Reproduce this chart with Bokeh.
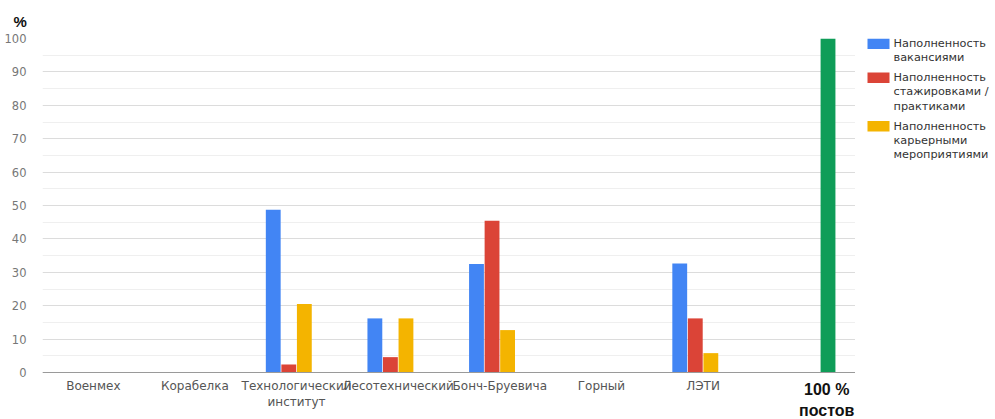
from bokeh.plotting import figure
from bokeh.models import ColumnDataSource, Range1d, FactorRange, Title, Span, FixedTicker
from bokeh.core.properties import value
from bokeh.layouts import row
from bokeh.transform import dodge
from bokeh.embed import file_html
from bokeh.resources import INLINE

categories = ["Военмех", "Корабелка", "Технологический\nинститут", "Лесотехнический",
              "Бонч-Бруевича", "Горный", "ЛЭТИ", "100 %\nпостов"]
vacancies = [0, 0, 48.7, 16.2, 32.5, 0, 32.6, 0]
internships = [0, 0, 2.4, 4.6, 45.4, 0, 16.2, 0]
events = [0, 0, 20.5, 16.2, 12.7, 0, 5.8, 0]
posts = [0, 0, 0, 0, 0, 0, 0, 100]
series_names = ["Наполненность\nвакансиями", "Наполненность\nстажировками /\nпрактиками",
                "Наполненность\nкарьерными\nмероприятиями"]
y_ticks = [0, 10, 20, 30, 40, 50, 60, 70, 80, 90, 100]

colors = ["#4285F4", "#DB4437", "#F4B400", "#0F9D58"]

src = ColumnDataSource(dict(cat=categories, v=vacancies, i=internships, e=events, p=posts))

# frame extends below zero so that the category labels can be drawn with their own styles
p = figure(x_range=FactorRange(*categories), y_range=Range1d(-14.07, 100),
           width=855, height=419, output_backend="svg", toolbar_location=None,
           x_axis_location=None,
           min_border_left=42, min_border_right=0, min_border_top=38, min_border_bottom=0)
p.x_range.range_padding = 0

step = 0.153
bw = 0.146
for k, (col, c) in enumerate(zip(["v", "i", "e", "p"], colors)):
    p.vbar(x=dodge("cat", (k - 1.5) * step, range=p.x_range), top=col, width=bw,
           source=src, fill_color=c, line_color=None)

p.outline_line_color = None
p.xgrid.grid_line_color = None
p.yaxis.ticker = FixedTicker(ticks=y_ticks,
                             minor_ticks=[(a + b) / 2 for a, b in zip(y_ticks[:-1], y_ticks[1:])])
p.ygrid.grid_line_color = "#dcdcdc"
p.ygrid.minor_grid_line_color = "#efefef"
p.yaxis.axis_line_color = None
p.yaxis.major_tick_line_color = None
p.yaxis.minor_tick_line_color = None
p.yaxis.major_label_text_font = "DejaVu Sans"
p.yaxis.major_label_text_font_size = "11.5px"
p.yaxis.major_label_text_color = "#777777"
p.yaxis.major_label_standoff = 10

p.add_layout(Span(location=0, dimension="width", line_color="#9a9a9a", line_width=1.2))

lab_src = ColumnDataSource(dict(cat=categories[:-1]))
p.text(x="cat", y=0, text="cat", source=lab_src, y_offset=6, text_align="center",
       text_baseline="top", text_font=value("DejaVu Sans"), text_font_size="12px",
       text_color="#555555", text_line_height=1.18)

last_src = ColumnDataSource(dict(cat=categories[-1:]))
p.text(x="cat", y=0, text="cat", source=last_src, x_offset=22, y_offset=8,
       text_align="center", text_baseline="top", text_font=value("Liberation Sans"),
       text_font_size="16px", text_font_style="bold", text_color="#111111",
       text_line_height=1.25)

p.title = Title(text="%", align="left", offset=-29, text_font="Liberation Sans",
                text_font_size="15px", text_color="#111111", text_font_style="bold",
                standoff=17)

# legend panel (its frame is aligned with the chart frame: page rows 38..419)
lg = figure(width=140, height=419, output_backend="svg", toolbar_location=None,
            x_range=Range1d(0, 140), y_range=Range1d(419, 38),
            x_axis_location=None, y_axis_location=None,
            min_border_left=0, min_border_right=0, min_border_top=38, min_border_bottom=0)
lg.grid.visible = False
lg.outline_line_color = None

line_px = 14.5
gap_px = 5.0
tops = []
cur = 38
for n in series_names:
    tops.append(cur)
    cur += n.count("\n") * line_px + line_px + gap_px
leg_src = ColumnDataSource(dict(name=series_names, color=colors[:3], top=tops,
                                bottom=[t + 10.5 for t in tops]))
lg.quad(left=12, right=34, top="top", bottom="bottom", fill_color="color",
        line_color=None, source=leg_src)
lg.text(x=38, y="top", text="name", source=leg_src, text_baseline="top",
        text_align="left", text_font=value("DejaVu Sans"), text_font_size="11.3px",
        text_color="#333333", text_line_height=1.1, y_offset=-1.5)

layout = row(p, lg)
open("out.html", "w").write(file_html(layout, INLINE))
